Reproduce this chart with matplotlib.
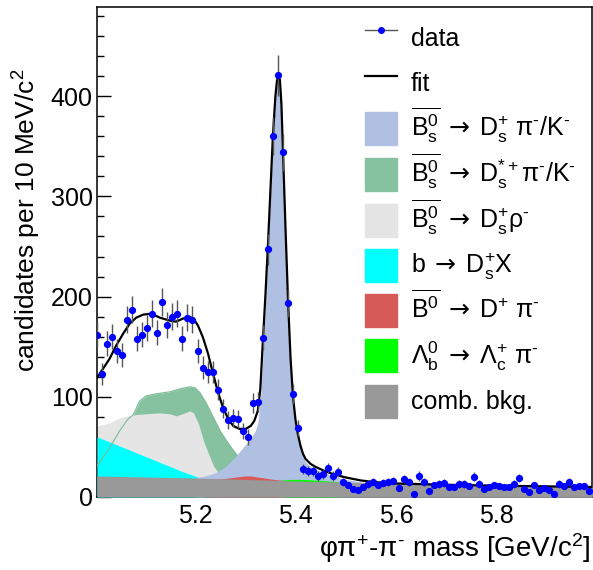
import numpy as np
import matplotlib
matplotlib.use("Agg")
import matplotlib.pyplot as plt
from matplotlib.patches import Patch, Rectangle
from matplotlib.lines import Line2D
from matplotlib.legend_handler import HandlerPatch
from matplotlib.ticker import MultipleLocator

plt.rcParams['font.family'] = ['Liberation Sans', 'DejaVu Sans']
plt.rcParams['mathtext.fontset'] = 'custom'
plt.rcParams['mathtext.rm'] = 'Liberation Sans'
plt.rcParams['mathtext.it'] = 'Liberation Sans:italic'
plt.rcParams['mathtext.sf'] = 'DejaVu Sans'
plt.rcParams['mathtext.default'] = 'rm'

# data histogram, 10 MeV bins from 5.00 GeV
bin_low = 5.0
bin_width = 0.01
counts = [162, 123, 153, 160, 146, 142, 177, 187, 158, 162,
          169, 183, 164, 195, 172, 180, 183, 158, 179, 177,
          146, 129, 125, 125, 107, 88, 77, 79, 78, 66,
          60, 94, 95, 159, 247, 360, 421, 344, 194, 103,
          69, 28, 26, 26, 21, 23, 29, 21, 25, 15,
          12, 8, 7, 10, 13, 15, 12, 14, 15, 16,
          9, 18, 15, 3, 21, 15, 6, 12, 13, 14,
          10, 10, 13, 13, 11, 20, 13, 8, 10, 12,
          11, 10, 10, 13, 19, 8, 5, 12, 7, 9,
          7, 3, 13, 11, 15, 10, 11, 11, 6]

# total fit curve
fit_x = [5.005, 5.017, 5.030, 5.043, 5.057, 5.070, 5.083, 5.097, 5.113, 5.130,
         5.150, 5.162, 5.176, 5.189, 5.197, 5.206, 5.216, 5.226, 5.236, 5.246,
         5.256, 5.266, 5.276, 5.288, 5.301, 5.311, 5.318, 5.325, 5.330, 5.335,
         5.340, 5.345, 5.350, 5.355, 5.360, 5.363, 5.366, 5.369, 5.372, 5.375,
         5.380, 5.385, 5.390, 5.395, 5.400, 5.405, 5.410, 5.415, 5.420, 5.430,
         5.440, 5.460, 5.480, 5.500, 5.530, 5.560, 5.600, 5.700, 5.800, 5.900,
         5.990]
fit_y = [119, 128, 138, 151, 163, 173, 179, 182, 183, 179,
         176, 175, 178, 180, 178, 171, 159, 143, 123, 104,
         89, 78, 71, 68, 68, 71, 76, 86, 108, 155,
         200, 250, 305, 360, 400, 415, 421, 416, 392, 346,
         270, 198, 140, 100, 77, 62, 51, 43, 38, 33,
         30, 25.5, 22, 19.5, 16.5, 14.8, 13.5, 12.2, 11.3, 10.6,
         10]

# Bs -> Ds pi/K signal
sig_x = [5.20, 5.22, 5.24, 5.26, 5.28, 5.29, 5.30, 5.31, 5.32, 5.325,
         5.330, 5.335, 5.340, 5.345, 5.350, 5.355, 5.360, 5.363, 5.366, 5.369,
         5.372, 5.375, 5.380, 5.385, 5.390, 5.395, 5.400, 5.405, 5.410, 5.415,
         5.420, 5.430, 5.440, 5.460, 5.480, 5.500, 5.530, 5.560, 5.600, 5.700,
         5.800, 5.900, 5.990]
sig_y = [19, 21, 24, 30, 40, 46, 52, 58, 66, 74,
         95, 140, 190, 242, 300, 355, 396, 412, 418, 413,
         389, 343, 267, 195, 137, 97, 74, 59, 48, 40,
         35, 30, 27.5, 23.5, 20, 17.5, 15, 13.5, 12.2, 11.2,
         10.5, 9.8, 9.3]

# Bs -> Ds* pi/K
dsst_x = [5.005, 5.030, 5.050, 5.067, 5.077, 5.090, 5.103, 5.123, 5.150, 5.170,
          5.190, 5.200, 5.210, 5.223, 5.237, 5.250, 5.263, 5.277, 5.287, 5.300,
          5.320, 5.340, 5.360]
dsst_y = [31, 49, 66, 78, 82, 96, 101, 103, 105, 108,
          110, 109, 104, 93, 79, 66, 56, 46, 40, 30,
          15, 5, 0]

# Bs -> Ds rho
dsrho_x = [5.005, 5.030, 5.050, 5.077, 5.100, 5.130, 5.150, 5.163, 5.180, 5.190,
           5.197, 5.207, 5.217, 5.227, 5.237, 5.247, 5.260, 5.280, 5.300]
dsrho_y = [71, 74, 79, 82, 83, 84, 83, 81, 84, 86,
           84, 73, 56, 43, 31, 24, 20, 15, 10]

# b -> Ds X
dsx_x = [5.005, 5.057, 5.123, 5.177, 5.205, 5.220]
dsx_y = [60, 49.5, 36, 25, 20, 17]

# B0 -> D pi
dpi_x = [5.24, 5.26, 5.28, 5.30, 5.31, 5.32, 5.34, 5.36, 5.38]
dpi_y = [18.3, 18.5, 19.8, 21, 21, 20.3, 18.8, 17.3, 16.5]

# Lb -> Lc pi
lb_x = [5.37, 5.39, 5.41, 5.43, 5.45, 5.47, 5.49]
lb_y = [16.8, 17.5, 17.6, 17.2, 16.5, 15.8, 15.0]

# combinatorial background
comb_x = [5.005, 5.1, 5.2, 5.3, 5.4, 5.5, 5.6, 5.7, 5.8, 5.9, 5.99]
comb_y = [21, 20, 19, 17.5, 16, 14.8, 13.5, 12.2, 11.3, 10.6, 10]

c_sig = '#afc0e2'
c_dsst = '#86c2a0'
c_dsrho = '#e5e5e5'
c_dsx = '#00ffff'
c_dpi = '#d65a55'
c_lb = '#00ff00'
c_comb = '#999999'


def legend_box(legend, orig_handle, xdescent, ydescent, width, height, fontsize):
    # fixed-size colour box centred in a taller legend row
    h = 1.32 * fontsize
    return Rectangle((-xdescent, -ydescent + (height - h) / 2), width, h)


def main():
    fig = plt.figure(figsize=(5.93, 5.70), dpi=100)
    ax = fig.add_axes([97 / 593, 73 / 570, 495 / 593, 490 / 570])

    # components, each filled from zero; later ones cover earlier ones
    ax.fill_between(dsst_x, 0, dsst_y, color=c_dsst, lw=0, zorder=1)
    ax.fill_between(dsrho_x, 0, dsrho_y, color=c_dsrho, lw=0, zorder=2)
    ax.fill_between(dsx_x, 0, dsx_y, color=c_dsx, lw=0, zorder=3)
    ax.plot(dsst_x, dsst_y, color='#7dbb96', lw=0.8, zorder=3.5)
    ax.fill_between(sig_x, 0, sig_y, color=c_sig, lw=0, zorder=4)
    ax.fill_between(dpi_x, 0, dpi_y, color=c_dpi, lw=0, zorder=5)
    ax.fill_between(lb_x, 0, lb_y, color=c_lb, lw=0, zorder=6)
    ax.fill_between(comb_x, 0, comb_y, color=c_comb, lw=0, zorder=7)

    ax.plot(fit_x, fit_y, color='black', lw=1.6, zorder=8)

    centers = bin_low + bin_width * (np.arange(len(counts)) + 0.5)
    ax.errorbar(centers, counts, yerr=np.sqrt(counts), fmt='o', ms=4.2,
                color='blue', ecolor='#555555', elinewidth=1, capsize=0, zorder=10)

    ax.set_xlim(5.005, 5.99)
    ax.set_ylim(0, 489)
    ax.xaxis.set_major_locator(MultipleLocator(0.2))
    ax.xaxis.set_minor_locator(MultipleLocator(0.05))
    ax.yaxis.set_major_locator(MultipleLocator(100))
    ax.yaxis.set_minor_locator(MultipleLocator(20))
    ax.tick_params(which='both', direction='in', top=False, right=False, width=1)
    ax.tick_params(which='major', length=10, labelsize=18)
    ax.tick_params(which='minor', length=5)
    ax.tick_params(axis='y', pad=3)
    ax.tick_params(axis='x', pad=5)
    for s in ax.spines.values():
        s.set_linewidth(1.1)

    ax.set_ylabel(r'candidates per 10 MeV/c$^{2}$', fontsize=19, loc='top')
    ax.yaxis.set_label_coords(-0.11, 0.875)
    ax.set_xlabel(r'φπ$^{+}$-π$^{\text{-}}$ mass [GeV/c$^{2}$]', fontsize=20, loc='right')
    ax.xaxis.set_label_coords(0.996, -0.07)

    arrow = r'\;\mathsf{\rightarrow}\;'
    handles = [
        Line2D([], [], color='#555555', lw=1, marker='o', ms=4,
               markerfacecolor='blue', markeredgecolor='blue'),
        Line2D([], [], color='black', lw=1.6),
        Patch(color=c_sig), Patch(color=c_dsst), Patch(color=c_dsrho),
        Patch(color=c_dsx), Patch(color=c_dpi), Patch(color=c_lb), Patch(color=c_comb),
    ]
    labels = [
        'data',
        'fit',
        r'$\overline{B^{0}_{s}}' + arrow + r'D^{+}_{s}\ \pi^{\text{-}}/K^{\text{-}}$',
        r'$\overline{B^{0}_{s}}' + arrow + r'D^{*+}_{s}\pi^{\text{-}}/K^{\text{-}}$',
        r'$\overline{B^{0}_{s}}' + arrow + r'D^{+}_{s}\rho^{\text{-}}$',
        r'$b' + arrow + r'D^{+}_{s}X$',
        r'$\overline{B^{0}}' + arrow + r'D^{+}\ \pi^{\text{-}}$',
        r'$\Lambda^{0}_{b}' + arrow + r'\Lambda^{+}_{c}\ \pi^{\text{-}}$',
        'comb. bkg.',
    ]
    ax.legend(handles, labels, loc='upper left', bbox_to_anchor=(0.541, 0.983),
              frameon=False, fontsize=18, handlelength=1.3, handleheight=2.4,
              handletextpad=0.55, labelspacing=0.0, borderpad=0, borderaxespad=0,
              handler_map={Patch: HandlerPatch(patch_func=legend_box)})

    plt.savefig('out.png', dpi=100)
    plt.close()


if __name__ == "__main__":
    main()
